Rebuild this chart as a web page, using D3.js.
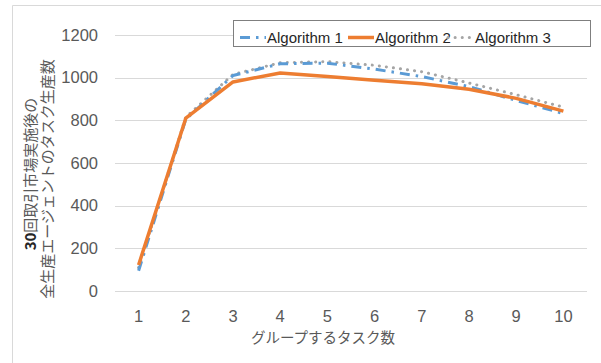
<!DOCTYPE html>
<html>
<head>
<meta charset="utf-8">
<script src="https://cdn.jsdelivr.net/npm/d3@7"></script>
<style>
  body { margin: 0; background: #fff; }
  svg { display: block; }
</style>
</head>
<body>
<svg id="chart"></svg>
<script>
// data
const groups = [1, 2, 3, 4, 5, 6, 7, 8, 9, 10]
const alg1 = [95, 805, 1010, 1065, 1068, 1040, 1005, 958, 893, 832]
const alg2 = [122, 810, 980, 1022, 1005, 988, 972, 946, 903, 843]
const alg3 = [110, 815, 1015, 1070, 1075, 1058, 1028, 975, 920, 862]
const yTicks = [0, 200, 400, 600, 800, 1000, 1200]
const seriesNames = ['Algorithm 1', 'Algorithm 2', 'Algorithm 3']

const width = 601,
	height = 363

const svg = d3.select('#chart').attr('width', width).attr('height', height)

// chart frame (only top/left visible)
svg.append('line').attr('x1', 12.5).attr('x2', width).attr('y1', 5.5).attr('y2', 5.5)
	.attr('stroke', '#d9d9d9')
svg.append('line').attr('x1', 12.5).attr('x2', 12.5).attr('y1', 5.5).attr('y2', height)
	.attr('stroke', '#d9d9d9')

const xScale = d3.scaleBand().domain(groups).range([115, 587])
const yScale = d3.scaleLinear().domain([0, 1200]).range([291, 35])
const cx = d => xScale(d) + xScale.bandwidth() / 2

// gridlines
svg.append('g')
	.selectAll('line')
	.data(yTicks)
	.enter()
	.append('line')
	.attr('x1', 115)
	.attr('x2', 587)
	.attr('y1', d => Math.round(yScale(d)) + 0.5)
	.attr('y2', d => Math.round(yScale(d)) + 0.5)
	.attr('stroke', '#d9d9d9')
	.attr('stroke-width', 1)

// axes
const yAxis = d3.axisLeft(yScale).tickValues(yTicks).tickFormat(d3.format('d')).tickSize(0).tickPadding(0)
svg.append('g').attr('transform', 'translate(98,0)').call(yAxis)
	.call(g => g.select('.domain').remove())
	.selectAll('text')
	.attr('font-family', 'Liberation Sans, Arial, sans-serif')
	.attr('font-size', 16.5)
	.attr('fill', '#595959')

const xAxis = d3.axisBottom(xScale).tickSize(0).tickPadding(0)
svg.append('g').attr('transform', 'translate(0,310)').call(xAxis)
	.call(g => g.select('.domain').remove())
	.selectAll('text')
	.attr('font-family', 'Liberation Sans, Arial, sans-serif')
	.attr('font-size', 16.5)
	.attr('fill', '#595959')

// axis titles
svg.append('text')
	.attr('x', 323)
	.attr('y', 343)
	.attr('text-anchor', 'middle')
	.attr('font-family', 'Noto Sans CJK JP, sans-serif')
	.attr('font-size', 14.5)
	.attr('fill', '#595959')
	.text('グループするタスク数')

const yTitle = svg.append('g')
const t1 = yTitle.append('text')
	.attr('transform', 'translate(36,174) rotate(-90)')
	.attr('text-anchor', 'middle')
	.attr('font-family', 'Noto Sans CJK JP, sans-serif')
	.attr('font-size', 15)
	.attr('fill', '#595959')
t1.append('tspan').attr('font-weight', 'bold').attr('fill', '#262626').text('30')
t1.append('tspan').text('回取引市場実施後の')
yTitle.append('text')
	.attr('transform', 'translate(53,179) rotate(-90)')
	.attr('text-anchor', 'middle')
	.attr('font-family', 'Noto Sans CJK JP, sans-serif')
	.attr('font-size', 15)
	.attr('fill', '#595959')
	.text('全生産エージェントのタスク生産数')

// lines
const lineGen = d3.line()
	.x((d, i) => cx(groups[i]))
	.y(d => yScale(d))

const styles = [
	{ color: '#5B9BD5', width: 3, dash: '10,6,2.5,6', cap: 'butt' },
	{ color: '#ED7D31', width: 3.5, dash: null, cap: 'butt' },
	{ color: '#A5A5A5', width: 3, dash: '0.1,7', cap: 'round' }
]
const allSeries = [alg1, alg2, alg3]

// gray first, then blue, orange on top
;[2, 0, 1].forEach(function (k) {
	svg.append('path')
		.datum(allSeries[k])
		.attr('d', lineGen)
		.attr('fill', 'none')
		.attr('stroke', styles[k].color)
		.attr('stroke-width', styles[k].width)
		.attr('stroke-dasharray', styles[k].dash)
		.attr('stroke-linecap', styles[k].cap)
		.attr('stroke-linejoin', 'round')
})

// legend
const legend = svg.append('g')
legend.append('rect')
	.attr('x', 233.5).attr('y', 20.5)
	.attr('width', 357).attr('height', 26)
	.attr('fill', '#fff')
	.attr('stroke', '#7f7f7f')
	.attr('stroke-width', 1)

const legendX = [240, 348, 448]
seriesNames.forEach(function (name, k) {
	legend.append('line')
		.attr('x1', legendX[k]).attr('x2', legendX[k] + 26)
		.attr('y1', 37.5).attr('y2', 37.5)
		.attr('stroke', styles[k].color)
		.attr('stroke-width', styles[k].width)
		.attr('stroke-dasharray', styles[k].dash)
		.attr('stroke-linecap', styles[k].cap)
	legend.append('text')
		.attr('x', legendX[k] + 27)
		.attr('y', 43)
		.attr('font-family', 'Liberation Sans, Arial, sans-serif')
		.attr('font-size', 15)
		.attr('fill', '#262626')
		.text(name)
})
</script>
</body>
</html>
